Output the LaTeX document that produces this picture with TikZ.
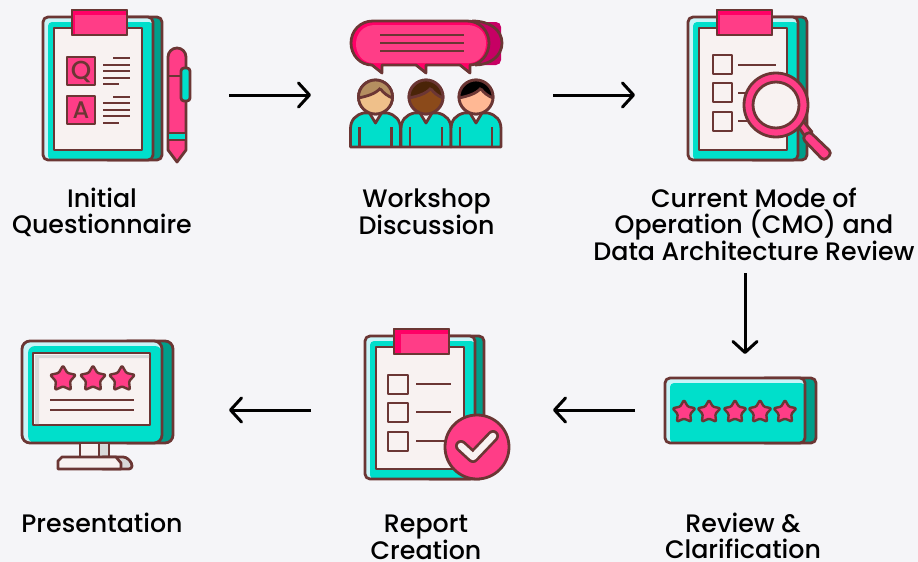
\documentclass[tikz,border=0pt]{standalone}
\usepackage{fontspec}
\setmainfont{Poppins Medium}
\usetikzlibrary{arrows.meta}
\definecolor{bgc}{HTML}{F5F5F8}
\definecolor{ol}{HTML}{6B3634}
\definecolor{teal1}{HTML}{00DFCB}
\definecolor{teal2}{HTML}{009E8A}
\definecolor{ice}{HTML}{C8F4F8}
\definecolor{paper}{HTML}{F8F2F1}
\definecolor{pink1}{HTML}{FF3D87}
\definecolor{pink2}{HTML}{FF0066}
\definecolor{pink3}{HTML}{C70064}
\definecolor{graysh}{HTML}{D9D9D9}
\definecolor{skinA}{HTML}{EFC08A}
\definecolor{hairA}{HTML}{B48E60}
\definecolor{skinB}{HTML}{8B4A1A}
\definecolor{hairB}{HTML}{4A2408}
\definecolor{skinC}{HTML}{FFB894}
\definecolor{hairC}{HTML}{000000}
\tikzset{
  ln/.style={draw=ol,line width=2.8pt,line join=round},
  stepbox/.style={inner sep=0pt,outer sep=0pt},
  lbl/.style={font=\fontsize{25.3}{26}\selectfont,align=center,text=black,inner sep=0pt},
  arr/.style={black,line width=3pt,-{Straight Barb[length=11pt,width=24pt,line width=3pt,round]}},
}
% y runs downward here, so 270 degrees is the top of the star
\newcommand{\rstar}[3]{%
  \draw[ln,line width=2.4pt,fill=pink1,rounded corners=1.2pt] ([shift={(#1,#2)}]270:#3)
    -- ([shift={(#1,#2)}]306:0.55*#3) -- ([shift={(#1,#2)}]342:#3)
    -- ([shift={(#1,#2)}]18:0.55*#3) -- ([shift={(#1,#2)}]54:#3)
    -- ([shift={(#1,#2)}]90:0.55*#3) -- ([shift={(#1,#2)}]126:#3)
    -- ([shift={(#1,#2)}]162:0.55*#3) -- ([shift={(#1,#2)}]198:#3)
    -- ([shift={(#1,#2)}]234:0.55*#3) -- cycle;}
% clipboard with left edge #1, top edge #2; #3 = width of the dark left part of the clip
\newcommand{\clipboard}[3]{%
  \begin{scope}[shift={(#1,#2)}]
    \draw[ln,fill=teal2,rounded corners=5pt] (60,0) rectangle (119,143);
    \fill[ice,rounded corners=5pt] (0,0) rectangle (110,143);
    \fill[teal1,rounded corners=4pt] (5,5) rectangle (110,143);
    \draw[ln,rounded corners=5pt] (0,0) rectangle (110,143);
    \draw[ln,fill=paper] (11,11) rectangle (99,133);
    \draw[ln,fill=pink2] (29,-7) rectangle (84,18);
    \fill[pink1] (29+#3,-2) rectangle (83,17);
    \draw[ln] (29,-7) rectangle (84,18);
  \end{scope}}
\newcommand{\person}[3]{% x, skin, hair
  \begin{scope}[shift={(#1,0)}]
    \draw[ln,fill=teal1] (-25,147) -- (-25,129) .. controls (-25,120) and (-20,115) .. (-12,113)
      -- (12,113) .. controls (20,115) and (25,120) .. (25,129) -- (25,147) -- cycle;
    \draw[ln,fill=paper] (-6,113) -- (0,123) -- (6,113);
    \draw[ln] (-16,127) -- (-16,147) (16,127) -- (16,147);
    \draw[ln,fill=#2] (0,97) circle[radius=17];
    \begin{scope}
      \clip (0,97) circle[radius=17];
      \fill[#3] (-18,78) rectangle (18,99);
      \fill[#2] (-18,98) .. controls (-8,96) and (0,94) .. (5,89) .. controls (8,93) and (12,96) .. (18,98) -- (18,116) -- (-18,116) -- cycle;
    \end{scope}
    \draw[ln] (-17,98) .. controls (-8,96) and (0,94) .. (5,88) (5,89) .. controls (8,93) and (12,96) .. (17,98);
    \draw[ln] (0,97) circle[radius=17];
  \end{scope}}
\begin{document}
\begin{tikzpicture}[x=1pt,y=-1pt]
\useasboundingbox (0,0) rectangle (918,562);
\fill[bgc] (0,0) rectangle (918,562);

% ---- invisible layout boxes, for the connectors
\node[stepbox,minimum width=188pt,minimum height=150pt] (s1) at (135,95) {};
\node[stepbox,minimum width=242pt,minimum height=150pt] (s2) at (432,95) {};
\node[stepbox,minimum width=220pt,minimum height=356pt] (s3) at (745,95) {};
\node[stepbox,minimum width=220pt,minimum height=112pt] (s4) at (745,410) {};
\node[stepbox,minimum width=242pt,minimum height=112pt] (s5) at (432,410) {};
\node[stepbox,minimum width=188pt,minimum height=112pt] (s6) at (135,410) {};

% ---- 1 questionnaire
\clipboard{43}{17}{3}
\draw[ln,fill=pink1] (67,57) rectangle (95,85);
\draw[ln,fill=pink1] (67,96) rectangle (95,124);
\node[font=\fontsize{26}{26}\selectfont,text=ol,inner sep=0pt] (q) at (81,72) {Q};
\node[font=\fontsize{24}{24}\selectfont,text=ol,inner sep=0pt] (a) at (81,110) {A};
\draw[ln] (113,58) -- (130,58) (103,65) -- (130,65) (103,71) -- (130,71) (103,78) -- (130,78) (103,84) -- (119,84);
\draw[ln] (113,97) -- (130,97) (103,103) -- (130,103) (103,110) -- (130,110) (103,116) -- (130,116) (103,123) -- (119,123);
% pen
\draw[ln,fill=pink1] (168,57) .. controls (168,52) and (172,48) .. (177,48) .. controls (182,48) and (186,52) .. (186,57) -- (186,150) -- (177,162) -- (168,150) -- cycle;
\draw[ln] (168,76) -- (182,76);
\draw[ln,fill=teal1] (168,133) rectangle (186,140);
\draw[ln,fill=teal1,rounded corners=3pt] (181,68) rectangle (190,101);

% ---- 2 workshop
\fill[pink3,rounded corners=5pt] (440,22) rectangle (501,65);
\draw[ln] (472,21) .. controls (490,21) and (502,30) .. (502,43) .. controls (502,56) and (490,65) .. (475,65);
\draw[ln,fill=pink2] (373,21) -- (467,21) .. controls (480,21) and (489,31) .. (489,43) .. controls (489,55) and (480,65) .. (470,65) -- (470,73) -- (460,65) -- (426,65) -- (426,73) -- (416,65) -- (382,65) -- (382,73) -- (372,65) .. controls (360,65) and (351,55) .. (351,43) .. controls (351,31) and (360,21) .. (373,21) -- cycle;
\fill[pink1] (375,25) -- (467,25) .. controls (479,25) and (486,33) .. (486,43) .. controls (486,55) and (478,63) .. (469,63) -- (373,63) .. controls (362,63) and (356,53) .. (356,44) .. controls (356,33) and (364,25) .. (375,25) -- cycle;
\draw[ln] (380,35) -- (464,35) (380,43) -- (464,43) (380,51) -- (464,51);
\person{375.5}{skinA}{hairA}
\person{426}{skinB}{hairB}
\person{476}{skinC}{hairC}

% ---- 3 review doc
\clipboard{688}{17}{3}
\draw[ln,fill=paper] (713,55) rectangle (732,74);
\draw[ln,fill=paper] (713,83) rectangle (732,102);
\draw[ln,fill=paper] (713,112) rectangle (732,131);
\draw[ln] (738,65) -- (776,65) (738,93) -- (760,93) (738,121) -- (760,121);
\draw[ln,fill=pink1] (798,126) -- (803,121) -- (812,132) -- (806,138) -- cycle;
\draw[ln,fill=pink1,rounded corners=4pt] (809,131) -- (832,153) -- (824,161) -- (802,138) -- cycle;
\draw[ln,fill=pink1] (776,105) circle[radius=32];
\draw[ln,fill=paper] (776,105) circle[radius=23];

% ---- 4 rating
\draw[ln,fill=teal2,rounded corners=5pt] (760,378) rectangle (816,443);
\fill[ice,rounded corners=5pt] (665,378) rectangle (805,443);
\fill[teal1,rounded corners=4pt] (670,383) rectangle (805,443);
\draw[ln,rounded corners=5pt] (665,378) rectangle (805,443);
\rstar{684}{412}{12}\rstar{709}{412}{12}\rstar{735}{412}{12}\rstar{760}{412}{12}\rstar{785}{412}{12}

% ---- 5 report
\clipboard{365}{336}{7}
\draw[ln,fill=paper] (388,375) rectangle (408,394);
\draw[ln,fill=paper] (388,403) rectangle (408,422);
\draw[ln,fill=paper] (388,432) rectangle (408,451);
\draw[ln] (416,384) -- (451,384) (416,412) -- (451,412) (416,441) -- (451,441);
\draw[ln,fill=pink1] (477,447) circle[radius=32];
\draw[draw=ol,line width=12pt,line cap=round,line join=round] (461,446) -- (473,457) -- (493,436);
\draw[draw=paper,line width=6.5pt,line cap=round,line join=round] (461,446) -- (473,457) -- (493,436);

% ---- 6 presentation
\draw[ln,fill=teal2,rounded corners=8pt] (120,341) rectangle (173,443);
\fill[ice,rounded corners=8pt] (22,341) rectangle (162,443);
\fill[teal1,rounded corners=7pt] (28,346) rectangle (162,443);
\draw[ln,rounded corners=8pt] (22,341) rectangle (162,443);
\draw[ln,fill=paper] (33,353) rectangle (150,425);
\fill[graysh] (35,355) rectangle (149,358) (35,355) rectangle (39,424);
\draw[ln,fill=graysh] (80,443) rectangle (109,457);
\fill[paper] (81,444) rectangle (99,456);
\draw[ln] (99,443) -- (99,457);
\draw[ln,fill=graysh,rounded corners=3pt] (100,457) -- (126,457) -- (132,463) -- (132,469) -- (100,469) -- cycle;
\draw[ln,fill=paper] (62,457) -- (116,457) -- (121,463) -- (121,469) -- (58,469) -- (58,461) -- cycle;
\rstar{63}{379}{13.5}\rstar{93}{379}{13.5}\rstar{122}{379}{13.5}
\draw[ln] (50,400) -- (134,400) (50,410) -- (134,410);

% ---- labels
\node[lbl] (t1) at (102,212) {Initial\\Questionnaire};
\node[lbl] (t2) at (426.5,211.5) {Workshop\\Discussion};
\node[lbl] (t3) at (754,224) {Current Mode of\\Operation (CMO) and\\Data Architecture Review};
\node[lbl] (t4) at (743,536) {Review \&\\Clarification};
\node[lbl] (t5) at (426,537) {Report\\Creation};
\node[lbl] (t6) at (102,523) {Presentation};

% ---- connectors
\draw[arr] (s1.east) -- (s2.west);
\draw[arr] (s2.east) -- (s3.west);
\draw[arr] (s3.south) -- (s4.north);
\draw[arr] (s4.west) -- (s5.east);
\draw[arr] (s5.west) -- (s6.east);
\end{tikzpicture}
\end{document}
